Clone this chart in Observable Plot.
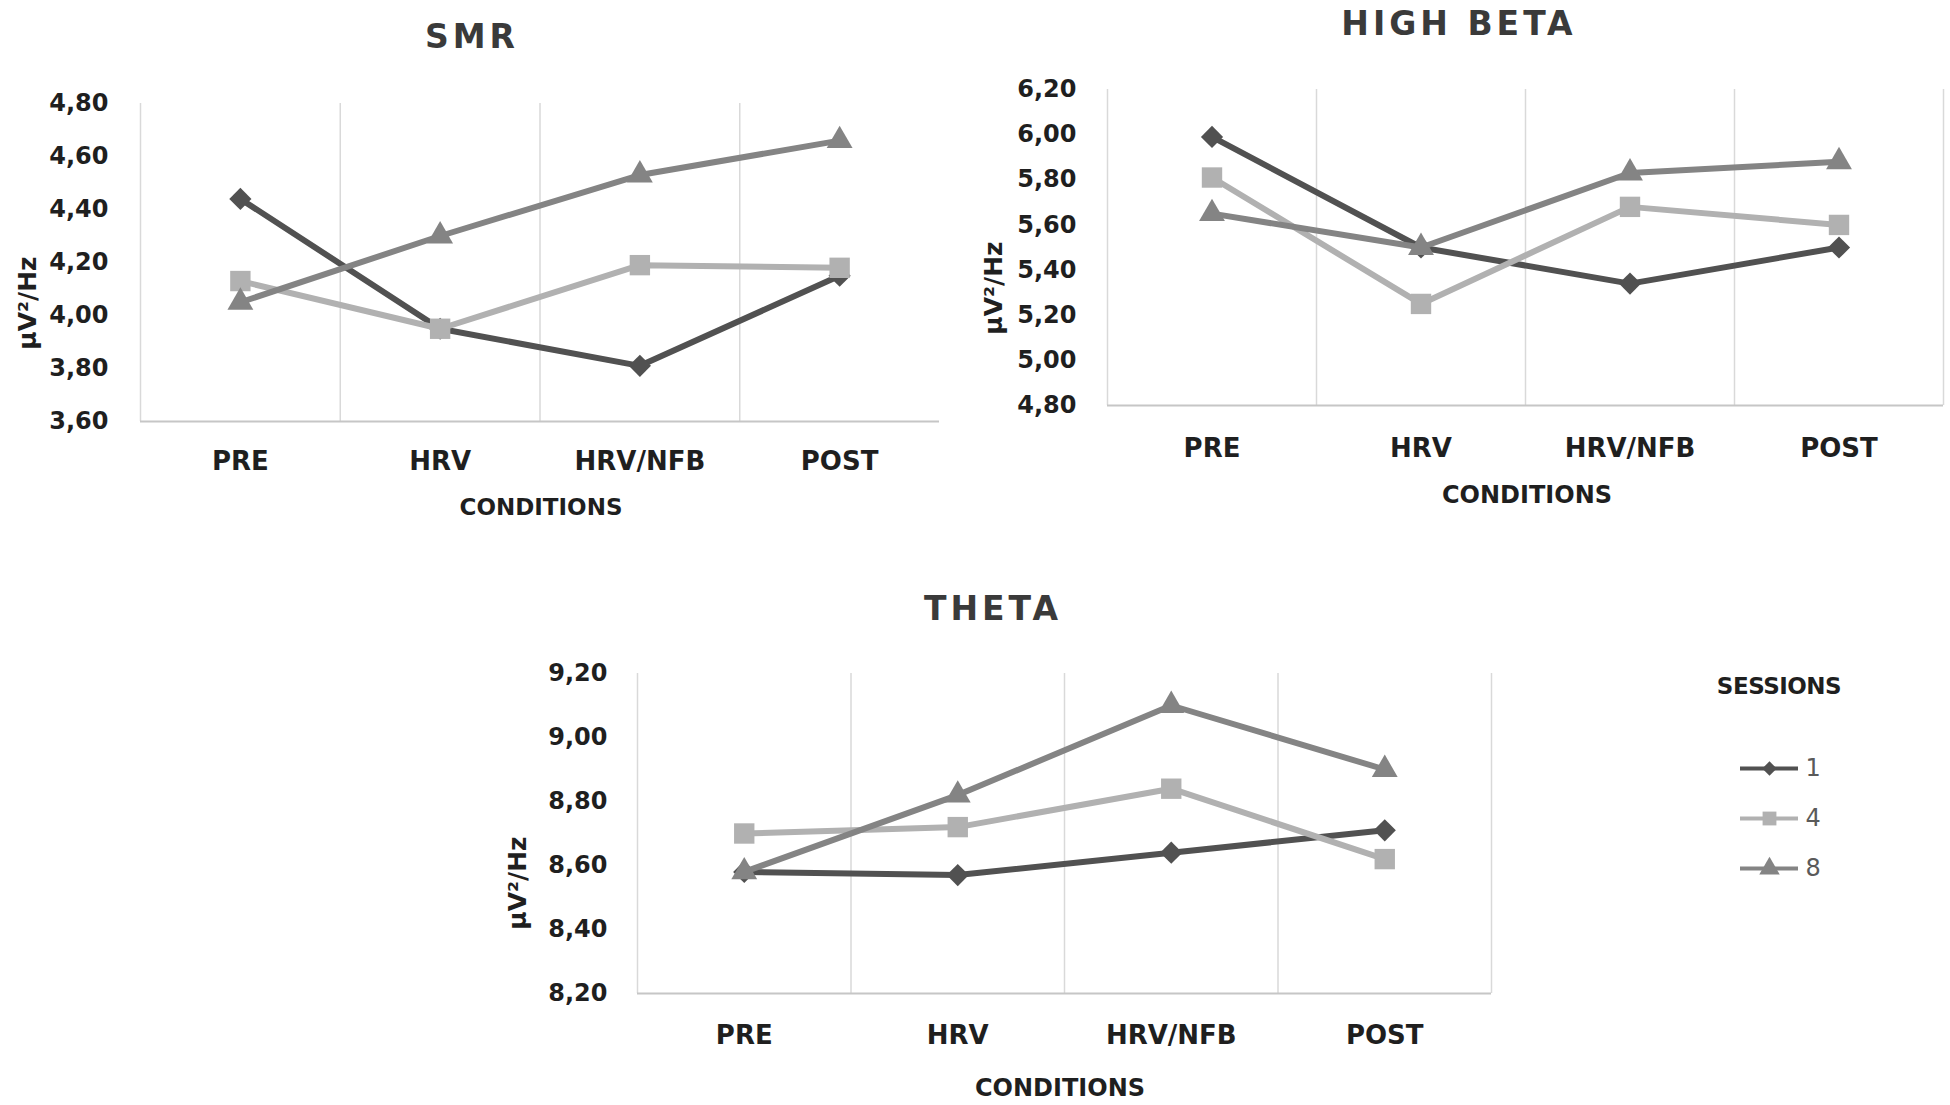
<!DOCTYPE html>
<html>
<head>
<meta charset="utf-8">
<script src="https://cdn.jsdelivr.net/npm/d3@7"></script>
<script src="https://cdn.jsdelivr.net/npm/@observablehq/plot@0.6"></script>
<style>
  html, body { margin: 0; padding: 0; background: #fff; }
  #page { position: relative; width: 1950px; height: 1105px; overflow: hidden; background: #fff;
          font-family: "DejaVu Sans", "Liberation Sans", sans-serif; }
  .panel { position: absolute; }
  .t { position: absolute; transform: translate(-50%, -50%); white-space: nowrap; font-weight: bold; line-height: 1; }
  .title { font-size: 33px; letter-spacing: 4px; color: #3a3a3a; }
  .xlab { color: #1f1f1f; }
  .ylab { font-size: 25px; color: #1f1f1f; transform: translate(-50%, -50%) rotate(-90deg); }
</style>
</head>
<body>
<div id="page"></div>
<script>
// ---------- data ----------
const conditions = ["PRE", "HRV", "HRV/NFB", "POST"];
const sessions = ["1", "4", "8"];

const smrTicks = [3.6, 3.8, 4.0, 4.2, 4.4, 4.6, 4.8];
const smrSession1 = [4.44, 3.95, 3.81, 4.15];
const smrSession4 = [4.13, 3.95, 4.19, 4.18];
const smrSession8 = [4.05, 4.30, 4.53, 4.66];

const highBetaTicks = [4.8, 5.0, 5.2, 5.4, 5.6, 5.8, 6.0, 6.2];
const highBetaSession1 = [5.99, 5.50, 5.34, 5.50];
const highBetaSession4 = [5.81, 5.25, 5.68, 5.60];
const highBetaSession8 = [5.65, 5.50, 5.83, 5.88];

const thetaTicks = [8.2, 8.4, 8.6, 8.8, 9.0, 9.2];
const thetaSession1 = [8.58, 8.57, 8.64, 8.71];
const thetaSession4 = [8.70, 8.72, 8.84, 8.62];
const thetaSession8 = [8.58, 8.82, 9.10, 8.90];

// ---------- styling ----------
const seriesColor = ["#515151", "#b1b1b1", "#848484"];
const seriesSymbol = ["diamond2", "square", "triangle"];
const seriesR = [10, 11.5, 9.6];
const legendR = [6.5, 7.8, 7.6];

const fmt = d => d.toFixed(2).replace(".", ",");
const page = document.getElementById("page");

function addText(cls, text, x, y, extra = {}) {
  const d = document.createElement("div");
  d.className = "t " + cls;
  d.textContent = text;
  d.style.left = x + "px";
  d.style.top = y + "px";
  Object.assign(d.style, extra);
  page.appendChild(d);
}

function panel(cfg) {
  const n = conditions.length;
  const bounds = d3.range(n + (cfg.rightLine ? 1 : 0)).map(i => i - 0.5);
  const marks = [
    Plot.ruleX(bounds, {stroke: "#d9d9d9", strokeWidth: 1.5}),
    Plot.ruleY([cfg.ticks[0]], {stroke: "#c6c6c6", strokeWidth: 2}),
    Plot.axisY(cfg.ticks, {tickSize: 0, tickPadding: cfg.yPad, tickFormat: fmt,
      fontSize: 24, fontWeight: "bold", label: null}),
    Plot.axisX(d3.range(n), {tickSize: 0, tickPadding: cfg.xPad, tickFormat: i => conditions[i],
      fontSize: 26, fontWeight: "bold", label: null})
  ];
  cfg.values.forEach((vals, k) => {
    const data = vals.map((v, i) => ({i, v, session: sessions[k]}));
    marks.push(Plot.line(data, {x: "i", y: "v", stroke: seriesColor[k], strokeWidth: 6,
      strokeLinejoin: "round", strokeLinecap: "round"}));
    marks.push(Plot.dot(data, {x: "i", y: "v", symbol: seriesSymbol[k], fill: seriesColor[k],
      stroke: "none", r: seriesR[k]}));
  });
  const svg = Plot.plot({
    width: cfg.width, height: cfg.height,
    marginLeft: cfg.ml, marginRight: cfg.mr, marginTop: cfg.mt, marginBottom: cfg.mb,
    x: {domain: [-0.5, n - 0.5]},
    y: {domain: [cfg.ticks[0], cfg.ticks[cfg.ticks.length - 1]]},
    style: {background: "transparent", color: "#1f1f1f", overflow: "visible",
            fontFamily: "DejaVu Sans, Liberation Sans, sans-serif"},
    marks
  });
  const wrap = document.createElement("div");
  wrap.className = "panel";
  wrap.style.left = cfg.left + "px";
  wrap.style.top = cfg.top + "px";
  wrap.appendChild(svg);
  page.appendChild(wrap);
}

// SMR
panel({ticks: smrTicks, values: [smrSession1, smrSession4, smrSession8],
  left: 0, top: 60, width: 960, height: 480, ml: 140, mr: 21, mt: 43, mb: 119,
  yPad: 32, xPad: 30, rightLine: false});
addText("title", "SMR", 472, 36);
addText("ylab", "µV²/Hz", 27, 303);
addText("xlab", "CONDITIONS", 541, 507, {fontSize: "23px"});

// HIGH BETA
panel({ticks: highBetaTicks, values: [highBetaSession1, highBetaSession4, highBetaSession8],
  left: 975, top: 40, width: 975, height: 480, ml: 132, mr: 7, mt: 49, mb: 115,
  yPad: 31, xPad: 33, rightLine: true});
addText("title", "HIGH BETA", 1459, 23);
addText("ylab", "µV²/Hz", 993, 288);
addText("xlab", "CONDITIONS", 1527, 495, {fontSize: "24px"});

// THETA
panel({ticks: thetaTicks, values: [thetaSession1, thetaSession4, thetaSession8],
  left: 480, top: 620, width: 1050, height: 460, ml: 157, mr: 39, mt: 53, mb: 87,
  yPad: 30, xPad: 32, rightLine: true});
addText("title", "THETA", 993, 608);
addText("ylab", "µV²/Hz", 517, 883);
addText("xlab", "CONDITIONS", 1060, 1088, {fontSize: "24px"});

// Legend
addText("xlab", "SESSIONS", 1779, 686, {fontSize: "23px", letterSpacing: "-0.5px"});
const legendMarks = [];
sessions.forEach((s, k) => {
  legendMarks.push(Plot.ruleY([s], {y: d => d, x1: 10, x2: 68, stroke: seriesColor[k], strokeWidth: 4}));
  legendMarks.push(Plot.dot([s], {y: d => d, x: 39, symbol: seriesSymbol[k], fill: seriesColor[k], stroke: "none", r: legendR[k]}));
  legendMarks.push(Plot.text([s], {y: d => d, x: 75, text: d => d, textAnchor: "start", fontSize: 24, fill: "#5a5a5a"}));
});
const legend = Plot.plot({
  width: 130, height: 150, margin: 0,
  x: {domain: [0, 130], range: [0, 130], axis: null},
  y: {type: "point", domain: sessions, range: [27, 128], padding: 0, axis: null},
  style: {background: "transparent", overflow: "visible", fontFamily: "DejaVu Sans, Liberation Sans, sans-serif"},
  marks: legendMarks
});
const lw = document.createElement("div");
lw.className = "panel";
lw.style.left = "1730px";
lw.style.top = "740px";
lw.appendChild(legend);
page.appendChild(lw);
</script>
</body>
</html>
